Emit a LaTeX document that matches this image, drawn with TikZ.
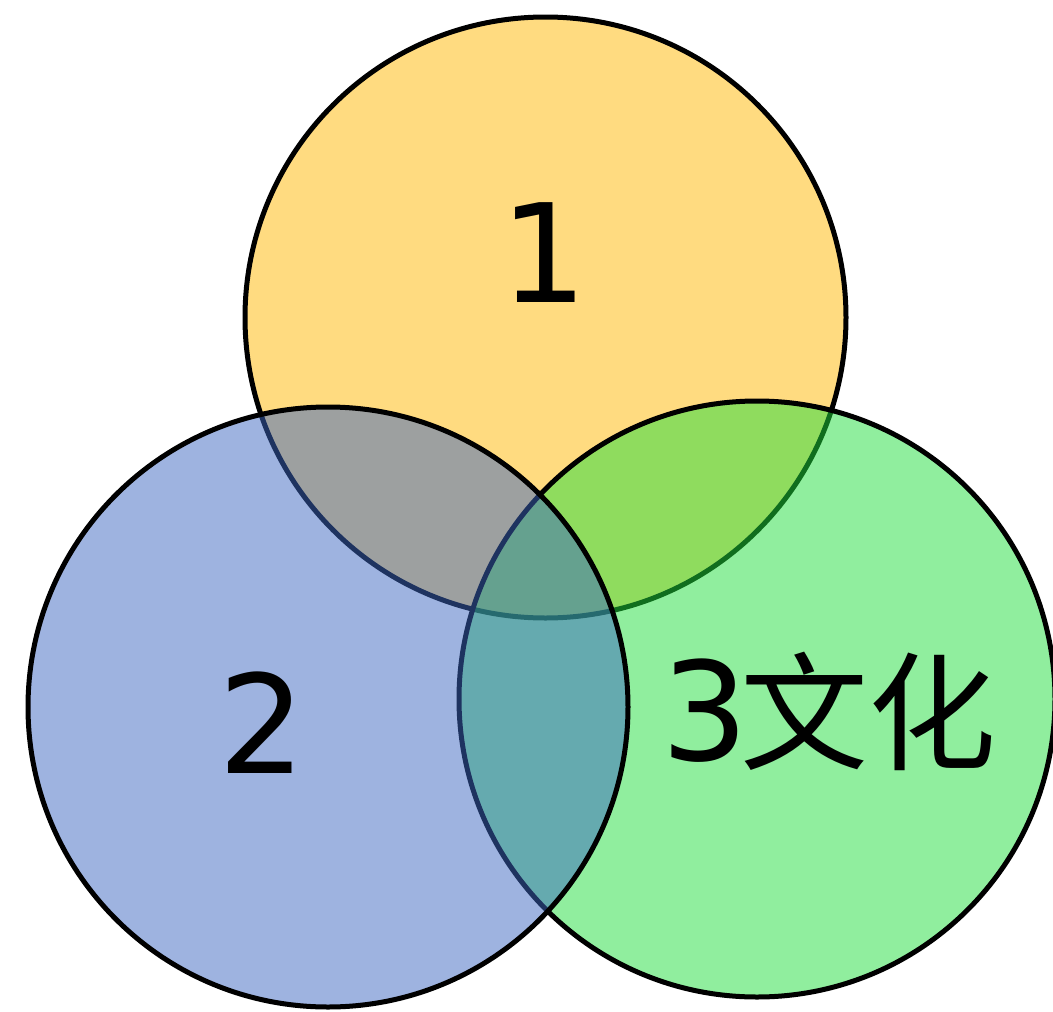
\documentclass[tikz,border=0pt]{standalone}
\usepackage{fontspec}
\setmainfont{DejaVu Sans}
\newfontfamily\cjkfont{Noto Sans CJK SC}
\definecolor{ycol}{RGB}{255,219,128}
\definecolor{gcol}{RGB}{33,221,61}
\definecolor{bcol}{RGB}{61,103,193}
\tikzset{
  venn/.style={circle, draw=black, line width=5pt, inner sep=0pt, outer sep=0pt},
  lbl/.style={inner sep=0pt, anchor=base, text=black}
}
\begin{document}
\begin{tikzpicture}[x=1pt,y=-1pt]
\useasboundingbox (0,0) rectangle (1053,1012);
\node[venn, fill=ycol, minimum size=601pt] (c1) at (545.5,317.5) {};
\node[venn, fill=gcol, fill opacity=0.5, minimum size=596pt] (c3) at (757,699) {};
\node[venn, fill=bcol, fill opacity=0.5, minimum size=600pt] (c2) at (328,707) {};
\node[lbl, font=\fontsize{137}{160}\selectfont] (t1) at (544,302) {1};
\node[lbl, font=\fontsize{137}{160}\selectfont] (t2) at (262,773) {2};
\node[lbl, font=\fontsize{137}{160}\selectfont] (t3) at (829,760) {3\hspace{-8pt}{\cjkfont\fontsize{128}{150}\selectfont 文化}};
\end{tikzpicture}
\end{document}
